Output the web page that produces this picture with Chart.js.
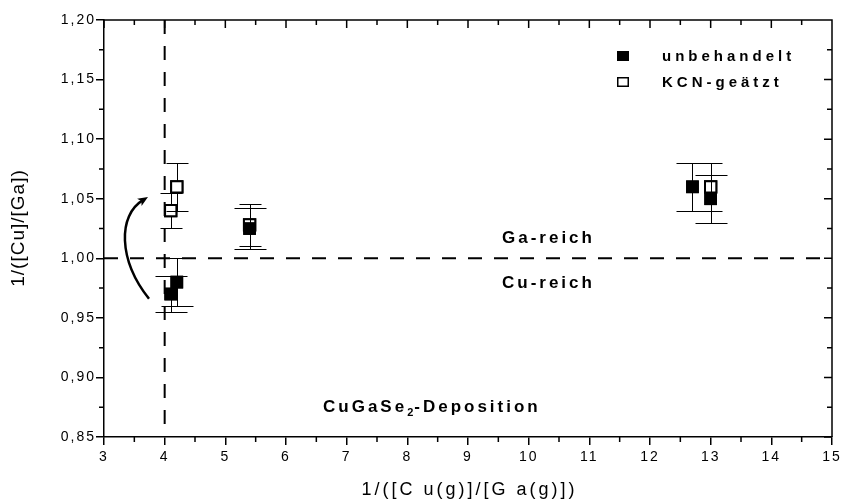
<!DOCTYPE html>
<html>
<head>
<meta charset="utf-8">
<script src="https://cdn.jsdelivr.net/npm/chart.js@4.4.0/dist/chart.umd.min.js"></script>
<style>
  html, body { margin: 0; padding: 0; background: #fff; }
  #grafico { display: block; }
</style>
</head>
<body>
<canvas id="grafico" width="843" height="504"></canvas>
<script>
// Messwerte: Gasphasenverhältnis (x) gegen Filmzusammensetzung (y)
const xUnbehandelt = [4.1, 4.2, 5.4, 12.7, 13.0];
const yUnbehandelt = [0.97, 0.98, 1.025, 1.06, 1.05];
const fehlerUnbehandelt = [0.015, 0.02, 0.0175, 0.02, 0.02];

const xKCN = [4.1, 4.2, 5.4, 13.0];
const yKCN = [1.04, 1.06, 1.028, 1.06];
const fehlerKCN = [0.015, 0.02, 0.0175, 0.02];

// Achsenteilung
const xTicks = [3, 4, 5, 6, 7, 8, 9, 10, 11, 12, 13, 14, 15];
const yTicks = [0.85, 0.90, 0.95, 1.00, 1.05, 1.10, 1.15, 1.20];

// Grenzlinien (Stöchiometrie)
const grenzeX = 4;
const grenzeY = 1.0;

const SCHRIFT = "'Liberation Sans', Arial, sans-serif";
Chart.defaults.font.family = SCHRIFT;
Chart.defaults.color = '#000';

function punkte(xs, ys) {
    return xs.map((x, i) => ({ x: x, y: ys[i] }));
}

// ================== PLUGINS ==================

// Gesperrte Schrift für die Achsenbeschriftung
const sperrung = {
    id: 'sperrung',
    beforeLayout(chart) { chart.ctx.letterSpacing = '2px'; },
    beforeDraw(chart) { chart.ctx.letterSpacing = '2px'; }
};

// Gestrichelte Linien bei x = 4 und y = 1
const grenzlinien = {
    id: 'grenzlinien',
    beforeDatasetsDraw(chart) {
        const { ctx, chartArea: a, scales: { x, y } } = chart;
        const px = x.getPixelForValue(grenzeX);
        const py = y.getPixelForValue(grenzeY);
        ctx.save();
        ctx.strokeStyle = '#000';
        ctx.lineWidth = 2;
        ctx.setLineDash([14, 12]);
        ctx.beginPath();
        ctx.moveTo(px, a.top);
        ctx.lineTo(px, a.bottom);
        ctx.moveTo(a.left, py);
        ctx.lineTo(a.right, py);
        ctx.stroke();
        ctx.restore();
    }
};

// Fehlerbalken, Punkt für Punkt mit dem zugehörigen Symbol
const fehlerbalken = {
    id: 'fehlerbalken',
    afterDatasetsDraw(chart) {
        const { ctx, chartArea: a, scales: { x, y } } = chart;
        const reihen = [
            { meta: chart.getDatasetMeta(0), xs: xKCN, ys: yKCN, f: fehlerKCN, kappe: 11 },
            { meta: chart.getDatasetMeta(1), xs: xUnbehandelt, ys: yUnbehandelt, f: fehlerUnbehandelt, kappe: 16 }
        ];
        ctx.save();
        reihen.forEach(r => {
            r.xs.forEach((xv, i) => {
                const px = Math.round(x.getPixelForValue(xv)) + 0.5;
                const yo = Math.round(y.getPixelForValue(r.ys[i] + r.f[i])) + 0.5;
                const yu = Math.round(y.getPixelForValue(r.ys[i] - r.f[i])) + 0.5;
                ctx.strokeStyle = '#000';
                ctx.lineWidth = 1;
                ctx.beginPath();
                ctx.moveTo(px, yo);
                ctx.lineTo(px, yu);
                ctx.moveTo(px - r.kappe, yo);
                ctx.lineTo(px + r.kappe, yo);
                ctx.moveTo(px - r.kappe, yu);
                ctx.lineTo(px + r.kappe, yu);
                ctx.stroke();
                r.meta.data[i].draw(ctx, a);
            });
        });
        ctx.restore();
    }
};

// Rahmen oben/rechts, Nebenstriche, Achsentitel, Legende, Beschriftungen, Pfeil
const rahmen = {
    id: 'rahmen',
    afterDraw(chart) {
        const { ctx, chartArea: a, scales: { x, y } } = chart;
        ctx.save();
        ctx.strokeStyle = '#000';
        ctx.lineWidth = 1.5;
        ctx.beginPath();
        ctx.moveTo(a.left, a.top);
        ctx.lineTo(a.right, a.top);
        ctx.lineTo(a.right, a.bottom);
        xTicks.forEach((v, i) => {
            const p = x.getPixelForValue(v);
            ctx.moveTo(p, a.top);
            ctx.lineTo(p, a.top + 8);
            if (i < xTicks.length - 1) {
                const m = x.getPixelForValue((v + xTicks[i + 1]) / 2);
                ctx.moveTo(m, a.bottom);
                ctx.lineTo(m, a.bottom + 5);
                ctx.moveTo(m, a.top);
                ctx.lineTo(m, a.top + 5);
            }
        });
        yTicks.forEach((v, i) => {
            const p = y.getPixelForValue(v);
            ctx.moveTo(a.right, p);
            ctx.lineTo(a.right - 8, p);
            if (i < yTicks.length - 1) {
                const m = y.getPixelForValue((v + yTicks[i + 1]) / 2);
                ctx.moveTo(a.left, m);
                ctx.lineTo(a.left - 5, m);
                ctx.moveTo(a.right, m);
                ctx.lineTo(a.right - 5, m);
            }
        });
        ctx.stroke();

        // Pfeil: Verschiebung durch KCN-Ätzung
        const p0 = [x.getPixelForValue(3.742), y.getPixelForValue(0.966)];
        const c1 = [x.getPixelForValue(3.23), y.getPixelForValue(0.999)];
        const c2 = [x.getPixelForValue(3.23), y.getPixelForValue(1.036)];
        const p3 = [x.getPixelForValue(3.725), y.getPixelForValue(1.0514)];
        const winkel = Math.atan2(p3[1] - c2[1], p3[0] - c2[0]);
        const spitze = 11;
        ctx.lineWidth = 2.5;
        ctx.beginPath();
        ctx.moveTo(p0[0], p0[1]);
        ctx.bezierCurveTo(c1[0], c1[1], c2[0], c2[1],
            p3[0] - Math.cos(winkel) * 6, p3[1] - Math.sin(winkel) * 6);
        ctx.stroke();
        ctx.fillStyle = '#000';
        ctx.beginPath();
        ctx.moveTo(p3[0], p3[1]);
        ctx.lineTo(p3[0] - spitze * Math.cos(winkel - 0.4), p3[1] - spitze * Math.sin(winkel - 0.4));
        ctx.lineTo(p3[0] - spitze * 0.7 * Math.cos(winkel), p3[1] - spitze * 0.7 * Math.sin(winkel));
        ctx.lineTo(p3[0] - spitze * Math.cos(winkel + 0.4), p3[1] - spitze * Math.sin(winkel + 0.4));
        ctx.closePath();
        ctx.fill();

        // Achsentitel
        ctx.textBaseline = 'middle';
        ctx.textAlign = 'center';
        ctx.font = `18px ${SCHRIFT}`;
        ctx.letterSpacing = '3px';
        ctx.fillText('1/([C u(g)]/[G a(g)])', (a.left + a.right) / 2 + 1.5, 490);
        ctx.save();
        ctx.translate(19, (a.top + a.bottom) / 2);
        ctx.rotate(-Math.PI / 2);
        ctx.font = `19px ${SCHRIFT}`;
        ctx.letterSpacing = '1px';
        ctx.fillText('1/([Cu]/[Ga])', 0.5, 0);
        ctx.restore();

        // Legende
        ctx.lineWidth = 1.5;
        ctx.fillStyle = '#000';
        ctx.fillRect(617, 51, 12, 10);
        ctx.fillStyle = '#fff';
        ctx.fillRect(617.75, 77.75, 10.5, 8.5);
        ctx.strokeRect(617.75, 77.75, 10.5, 8.5);
        ctx.fillStyle = '#000';
        ctx.font = `bold 15px ${SCHRIFT}`;
        ctx.letterSpacing = '4px';
        ctx.textAlign = 'left';
        ctx.fillText('unbehandelt', 662, 57);
        ctx.fillText('KCN-geätzt', 662, 83);

        // Bereichsbeschriftungen
        ctx.font = `bold 17px ${SCHRIFT}`;
        ctx.letterSpacing = '3px';
        ctx.fillText('Ga-reich', x.getPixelForValue(9.56), y.getPixelForValue(1.017));
        ctx.fillText('Cu-reich', x.getPixelForValue(9.56), y.getPixelForValue(0.979));

        let tx = x.getPixelForValue(6.61);
        const ty = y.getPixelForValue(0.875);
        ctx.fillText('CuGaSe', tx, ty);
        tx += ctx.measureText('CuGaSe').width;
        ctx.font = `bold 11px ${SCHRIFT}`;
        ctx.letterSpacing = '1px';
        ctx.fillText('2', tx, ty + 6);
        tx += ctx.measureText('2').width;
        ctx.font = `bold 17px ${SCHRIFT}`;
        ctx.letterSpacing = '3px';
        ctx.fillText('-Deposition', tx, ty);
        ctx.restore();
    }
};

// ================== DIAGRAMM ==================

new Chart(document.getElementById('grafico'), {
    type: 'scatter',
    data: {
        datasets: [
            {
                label: 'KCN-geätzt',
                data: punkte(xKCN, yKCN),
                pointStyle: 'rect',
                pointRadius: 8,
                backgroundColor: '#fff',
                borderColor: '#000',
                borderWidth: 2
            },
            {
                label: 'unbehandelt',
                data: punkte(xUnbehandelt, yUnbehandelt),
                pointStyle: 'rect',
                pointRadius: 9,
                backgroundColor: '#000',
                borderColor: '#000',
                borderWidth: 0
            }
        ]
    },
    options: {
        responsive: false,
        animation: false,
        devicePixelRatio: 1,
        layout: { padding: { top: 20, right: 11, left: 0, bottom: 0 } },
        plugins: {
            legend: { display: false },
            tooltip: { enabled: false }
        },
        scales: {
            x: {
                type: 'linear',
                min: 3,
                max: 15,
                afterBuildTicks: s => { s.ticks = xTicks.map(v => ({ value: v })); },
                afterFit: s => { s.height = 67; s.paddingLeft = 0; s.paddingRight = 0; },
                ticks: { font: { size: 14 }, padding: 4, maxRotation: 0, autoSkip: false },
                grid: { drawOnChartArea: false, tickLength: 8, color: '#000', lineWidth: 1.5 },
                border: { color: '#000', width: 1.5 }
            },
            y: {
                type: 'linear',
                min: 0.85,
                max: 1.2,
                afterBuildTicks: s => { s.ticks = yTicks.map(v => ({ value: v })); },
                afterFit: s => { s.width = 104; s.paddingTop = 0; s.paddingBottom = 0; },
                ticks: {
                    font: { size: 14 },
                    padding: 0,
                    autoSkip: false,
                    callback: v => v.toFixed(2).replace('.', ',')
                },
                grid: { drawOnChartArea: false, tickLength: 8, color: '#000', lineWidth: 1.5 },
                border: { color: '#000', width: 1.5 }
            }
        }
    },
    plugins: [sperrung, grenzlinien, fehlerbalken, rahmen]
});
</script>
</body>
</html>
